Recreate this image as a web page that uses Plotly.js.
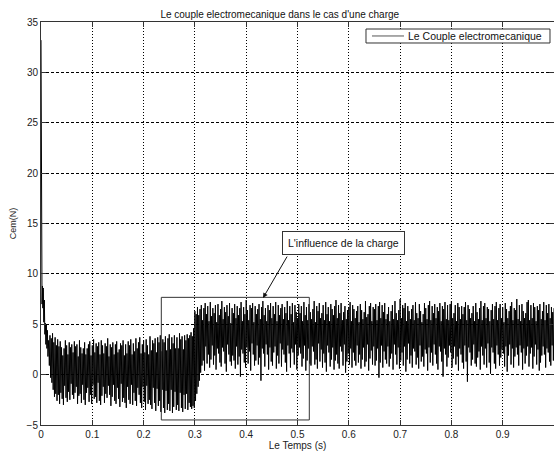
<!DOCTYPE html>
<html>
<head>
<meta charset="utf-8">
<script src="https://cdn.plot.ly/plotly-3.0.1.min.js"></script>
<style>
  html, body { margin: 0; padding: 0; background: #fff; overflow: hidden; }
  #chart { width: 554px; height: 453px; }
</style>
</head>
<body>
<div id="chart"></div>
<script>
// ---- Data ----
// Start-up transient (explicit sample times, s) and torque (N)
const startTime   = [0, 0.0008, 0.0012, 0.002, 0.0028, 0.0036, 0.0044, 0.0055, 0.0065, 0.0075, 0.0085, 0.0095, 0.0105, 0.0115, 0.0125, 0.0135];
const startTorque = [33.2, 13.8, 12.1, 7.0, 8.8, 6.6, 8.6, 5.2, 7.4, 4.0, 5.1, 3.0, 5.0, 2.6, 4.4, 1.8];

// Regular samples after the transient
const sampleStart = 0.015;    // s
const sampleStep  = 0.00125;  // s

// Before the load is applied (t = 0.015 ... 0.29875 s)
const torqueNoLoad = [
  3.4, 0.9, 3.9, -0.3, 3.6, -0.8, 4.1, -1.5, 3.2, -2.2, 3.7, -1.9, 2.9, -2.6, 3.5, -2.0, 2.8, -2.9, 3.3, -1.8,
  2.7, -2.4, 1.9, -3.0, 2.6, -1.1, 3.4, -2.3, 2.9, -2.7, 2.0, -1.7, 3.2, -2.5, 2.7, -0.9, 3.0, -2.0, 2.2, -2.4,
  3.3, -1.8, 2.8, -1.2, 3.0, -2.9, 1.8, -2.1, 3.4, -1.9, 2.7, -2.8, 2.1, -1.0, 2.6, -2.5, 3.2, -3.0, 2.0, -1.8,
  2.6, -1.3, 3.0, -2.7, 3.3, -2.0, 1.9, -2.9, 2.9, -1.0, 3.5, -2.4, 2.2, -2.2, 3.1, -2.8, 2.8, -0.8, 3.2, -2.6,
  2.0, -3.0, 3.4, -2.1, 2.9, -1.2, 2.1, -2.8, 3.1, -1.9, 2.8, -2.3, 3.6, -1.1, 1.8, -2.0, 3.0, -3.1, 2.7, -2.2,
  3.2, -1.0, 2.0, -2.6, 3.0, -2.9, 3.3, -1.3, 2.2, -2.4, 2.5, -3.2, 3.1, -0.9, 2.9, -2.7, 3.4, -2.3, 1.9, -2.8,
  3.0, -3.3, 2.1, -1.2, 3.3, -2.5, 2.9, -2.9, 3.5, -1.0, 2.0, -3.0, 3.1, -1.8, 2.3, -2.6, 3.6, -3.1, 2.6, -1.3,
  3.2, -2.0, 3.7, -2.8, 2.1, -3.3, 3.0, -1.2, 3.4, -2.7, 2.2, -3.5, 3.5, -1.1, 2.9, -2.9, 2.0, -2.5, 3.8, -3.0,
  2.4, -3.4, 3.4, -1.3, 3.1, -2.8, 3.6, -3.6, 2.2, -1.4, 3.7, -3.1, 3.2, -2.6, 3.9, -3.7, 2.3, -1.5, 3.5, -3.3,
  3.2, -3.8, 3.8, -1.6, 2.4, -3.5, 3.6, -2.9, 4.0, -3.6, 2.5, -1.5, 3.7, -3.8, 3.1, -3.2, 3.9, -1.7, 2.6, -3.5,
  3.7, -3.0, 2.6, -3.6, 4.1, -1.8, 3.5, -3.3, 3.8, -3.7, 2.5, -2.0, 3.9, -3.4, 3.4, -1.9, 4.0, -3.5, 3.6, -2.8,
  3.9, -3.2, 4.2, -3.4, 3.8, -3.1, 4.6, -3.3
];

// With the load (t = 0.300 ... 1.000 s)
const torqueLoad = [
  6.3, -2.6, 6.0, -1.9, 6.7, -1.2, 5.9, -0.6, 6.5, 0.2, 6.9, 0.9, 5.4, 1.4, 6.6, 0.4, 7.1, 2.8, 6.0, 1.1,
  6.8, 2.0, 5.3, 0.7, 7.2, 1.5, 5.8, 2.9, 6.6, 1.0, 6.1, 1.9, 6.9, 0.5, 5.2, 2.6, 7.0, 2.1, 5.9, 1.2,
  6.5, 0.8, 7.3, 2.7, 5.5, 2.3, 6.7, 1.1, 6.2, 0.3, 6.9, 3.0, 5.8, 2.0, 7.1, 1.3, 5.1, 0.9, 6.6, 1.9,
  6.1, 1.4, 7.0, 0.6, 5.6, 2.8, 6.8, 1.0, 5.9, 1.8, 6.6, -0.2, 7.2, 2.5, 5.3, 2.1, 6.7, 1.2, 6.0, 0.7,
  7.4, 2.7, 6.4, 1.1, 5.4, 2.3, 6.9, 0.4, 6.6, 3.1, 7.1, 2.0, 5.2, 0.9, 6.8, 1.4, 6.0, 2.9, 6.5, 1.0,
  7.0, 1.7, 5.5, -0.6, 6.7, 2.6, 7.3, 2.1, 5.9, 0.8, 6.6, 3.0, 5.3, 2.0, 6.9, 0.5, 6.4, 2.7, 7.1, 1.3,
  5.6, 0.9, 6.8, 2.2, 6.0, 2.8, 7.2, 0.6, 5.3, 1.9, 6.9, 1.1, 5.9, 3.1, 6.6, 0.8, 7.0, 2.5, 5.5, 2.0,
  6.7, 1.2, 6.1, 0.3, 7.3, 2.9, 5.4, 2.1, 6.8, 0.7, 6.0, 2.6, 7.1, 2.2, 5.2, 1.0, 6.9, 3.0, 6.2, 0.5,
  5.6, 1.9, 7.0, 2.7, 6.1, 2.1, 6.8, 0.8, 5.3, 1.6, 7.2, 2.9, 5.9, 0.4, 6.7, 1.4, 5.4, 2.6, 7.0, 1.1,
  6.2, 0.9, 5.5, 2.8, 6.5, 2.3, 7.3, 1.0, 5.2, 1.5, 6.8, 0.6, 6.3, 3.1, 7.1, 1.3, 5.6, 2.5, 6.1, 0.7,
  6.9, 2.1, 5.4, 1.2, 7.2, 0.3, 6.0, 2.9, 6.7, 2.2, 5.3, 0.8, 7.0, 1.5, 6.5, 2.7, 5.9, 0.5, 6.8, 1.4,
  7.4, 2.0, 5.6, 1.1, 6.9, 0.6, 6.1, 2.8, 7.1, 2.3, 5.4, 0.9, 6.2, 3.0, 6.8, 0.2, 5.5, 1.3, 6.4, 2.1,
  6.7, 1.0, 7.2, 2.6, 5.3, 0.7, 6.9, 2.2, 6.5, 1.4, 5.6, 0.9, 6.3, 2.9, 6.8, 1.2, 5.2, 2.0, 7.0, 0.6,
  6.4, 1.5, 5.5, 2.7, 6.2, 0.8, 7.3, 1.3, 5.7, 3.0, 6.0, 0.4, 6.8, 1.6, 7.1, 2.4, 5.3, 1.0, 6.7, 2.8,
  6.5, 0.9, 7.0, 1.4, 5.4, 2.6, 6.8, -0.3, 7.2, 1.2, 5.6, 2.9, 6.9, 0.7, 6.2, 2.3, 7.1, 1.5, 5.5, 1.1,
  6.0, 2.8, 6.7, 0.8, 5.3, 1.6, 6.3, 2.1, 6.9, 0.5, 5.5, 3.0, 7.3, 2.0, 6.1, 1.0, 5.4, 2.7, 6.4, 0.6,
  7.5, 1.4, 5.6, 2.2, 6.9, 0.9, 6.6, 2.8, 7.1, 0.3, 5.3, 1.5, 6.8, 3.1, 6.3, 1.1, 5.5, 1.9, 6.5, 0.7,
  6.9, 2.6, 5.4, 2.3, 7.2, 1.0, 6.1, 1.7, 5.6, 0.6, 7.0, 2.9, 6.3, 1.3, 5.2, 1.8, 6.0, 0.8, 7.1, 2.5,
  6.6, 2.1, 5.5, 0.4, 6.9, 2.7, 7.3, 1.2, 5.4, 2.2, 6.8, 0.9, 6.1, 3.0, 7.0, 2.0, 5.6, 1.1, 6.7, 0.5,
  6.3, 2.8, 7.1, 2.3, 5.3, 1.3, 6.8, -0.2, 6.5, 2.6, 7.2, 2.0, 5.5, 0.8, 6.9, 1.7, 5.4, 2.9, 7.0, 2.2,
  7.3, 0.7, 5.6, 1.6, 6.1, 2.8, 6.9, 1.0, 5.3, 1.8, 7.1, 0.4, 6.7, 2.6, 5.5, 2.0, 6.8, 1.2, 6.0, 0.6,
  6.7, 2.9, 7.2, 1.3, 5.4, -0.7, 6.9, 2.7, 6.5, 2.2, 5.6, 0.9, 6.1, 1.5, 6.8, 3.0, 5.3, 1.1, 7.1, 0.8,
  6.2, 1.7, 5.5, 2.3, 6.6, 0.5, 7.3, 2.8, 5.4, 1.9, 6.8, 1.0, 7.1, 2.6, 5.6, 0.7, 6.7, 3.1, 6.5, 1.2,
  5.3, 0.1, 6.4, 2.7, 7.0, 2.2, 5.5, 1.1, 6.8, 0.6, 7.2, 2.9, 5.4, 2.0, 6.6, 0.9, 7.0, 1.7, 5.6, 2.5,
  6.7, 2.1, 5.2, 0.8, 7.1, 2.8, 6.5, 0.3, 5.6, 1.9, 6.3, 3.0, 6.8, 1.0, 7.2, 2.6, 5.4, 0.7, 6.6, 1.8,
  6.4, 2.7, 7.5, 2.0, 5.5, 0.9, 6.9, 2.9, 5.3, 2.2, 7.0, 0.5, 6.3, 2.6, 5.6, 1.1, 6.1, 1.9, 7.2, 2.8,
  7.4, 0.8, 5.4, 2.1, 6.9, 2.7, 5.6, 0.6, 7.1, 1.8, 6.7, 3.0, 5.3, 1.0, 6.8, 2.5, 6.4, 0.4, 7.0, 1.2,
  5.5, 1.9, 6.3, 2.8, 7.2, 2.0, 5.4, 0.7, 6.9, 2.6, 6.1, 2.2, 7.0, 1.3, 5.6, 0.9, 6.7, 2.9, 6.2, 1.4,
  6.6
];

// Highlighted region (load influence)
const regionTime   = [0.2345, 0.523];
const regionTorque = [-4.5, 7.67];

// Annotation
const noteText     = "L'influence de la charge";
const notePos      = [0.5887, 13.1];
const arrowTip     = [0.4327, 7.6];

// Texts
const chartTitle  = "Le couple electromecanique dans le cas d'une charge";
const xTitle      = "Le Temps (s)";
const yTitle      = "Cem(N)";
const seriesName  = "Le Couple electromecanique";

// ---- Build the series ----
const sampled = torqueNoLoad.concat(torqueLoad);
const time = startTime.slice();
const torque = startTorque.slice();
for (let i = 0; i < sampled.length; i++) {
  time.push(+(sampleStart + i * sampleStep).toFixed(6));
  torque.push(sampled[i]);
}

const font = "Liberation Sans, Arial, sans-serif";

const trace = {
  x: time, y: torque, type: 'scatter', mode: 'lines',
  name: seriesName,
  line: { color: '#000', width: 1 },
  showlegend: false
};

// legend box geometry in paper coordinates
const legBox = { x0: 0.6335, x1: 0.9922, y0: 0.9479, y1: 0.9826 };

const layout = {
  width: 554, height: 453,
  margin: { l: 41, r: 0, t: 22, b: 28 },
  paper_bgcolor: '#fff', plot_bgcolor: '#fff',
  font: { family: font, size: 10, color: '#222' },
  title: { text: chartTitle, font: { family: font, size: 10, color: '#111' },
           xref: 'container', x: 0.505, xanchor: 'center',
           yref: 'container', y: 0.969, yanchor: 'middle' },
  showlegend: false,
  xaxis: {
    range: [0, 1], dtick: 0.1, tick0: 0,
    showline: true, linecolor: '#333', linewidth: 1, mirror: 'ticks',
    ticks: 'inside', ticklen: 5, tickcolor: '#333',
    showgrid: true, gridcolor: '#000', gridwidth: 1, griddash: '1px,2px',
    zeroline: false,
    tickfont: { family: font, size: 10, color: '#222' },
    title: { text: xTitle, font: { family: font, size: 10, color: '#222' }, standoff: 0 }
  },
  yaxis: {
    range: [-5, 35], dtick: 5, tick0: 0,
    showline: true, linecolor: '#333', linewidth: 1, mirror: 'ticks',
    ticks: 'inside', ticklen: 5, tickcolor: '#333',
    showgrid: true, gridcolor: '#000', gridwidth: 1, griddash: '3px,2px',
    zeroline: false,
    tickfont: { family: font, size: 10, color: '#222' },
    title: { text: yTitle, font: { family: font, size: 9, color: '#222' }, standoff: 8 }
  },
  shapes: [
    {
      type: 'rect', xref: 'x', yref: 'y',
      x0: regionTime[0], x1: regionTime[1], y0: regionTorque[0], y1: regionTorque[1],
      line: { color: '#333', width: 1 }, fillcolor: 'rgba(0,0,0,0)'
    },
    {
      type: 'rect', xref: 'paper', yref: 'paper',
      x0: legBox.x0, x1: legBox.x1, y0: legBox.y0, y1: legBox.y1,
      line: { color: '#333', width: 1 }, fillcolor: '#fff', layer: 'above'
    },
    {
      type: 'line', xref: 'paper', yref: 'paper',
      x0: 0.6452, x1: 0.7076, y0: 0.9653, y1: 0.9653,
      line: { color: '#555', width: 1 }, layer: 'above'
    }
  ],
  annotations: [
    {
      xref: 'paper', yref: 'paper', x: 0.7115, y: 0.9653, xanchor: 'left', yanchor: 'middle',
      text: seriesName, showarrow: false,
      font: { family: font, size: 10.5, color: '#111' }
    },
    {
      xref: 'x', yref: 'y', x: notePos[0], y: notePos[1], text: noteText, showarrow: false,
      font: { family: font, size: 10.5, color: '#111' },
      bgcolor: '#fff', bordercolor: '#333', borderwidth: 1, borderpad: 5
    },
    {
      xref: 'x', yref: 'y', x: arrowTip[0], y: arrowTip[1], text: '',
      showarrow: true, arrowhead: 2, arrowsize: 1, arrowwidth: 1, arrowcolor: '#111',
      ax: 25, ay: -43
    }
  ]
};

Plotly.newPlot('chart', [trace], layout, { displayModeBar: false, staticPlot: true });
</script>
</body>
</html>
